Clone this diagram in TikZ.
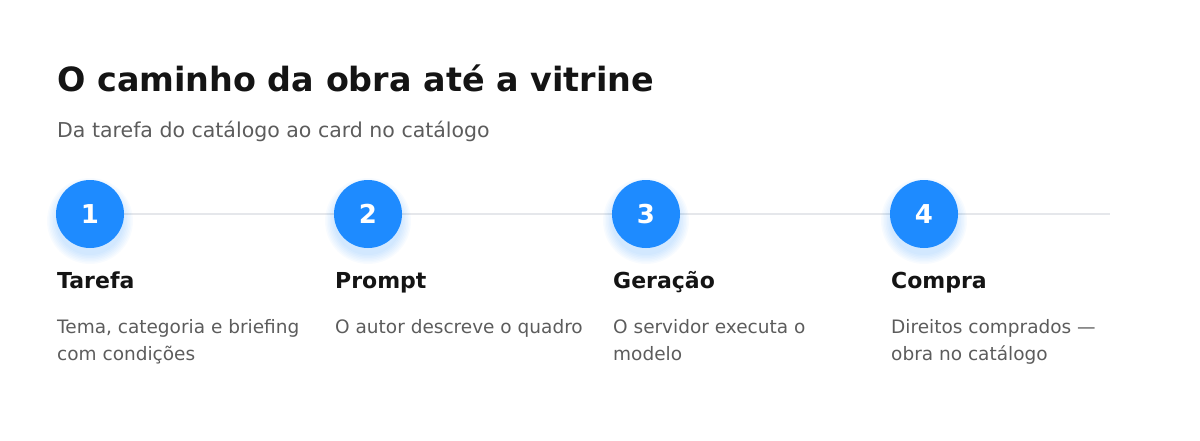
\documentclass[tikz,border=0pt]{standalone}
\usepackage{fontspec}
\setmainfont{DejaVu Sans}
\usetikzlibrary{backgrounds}
\definecolor{stepblue}{HTML}{1E8BFF}
\definecolor{railgray}{HTML}{E5E7EB}
\definecolor{inkdark}{HTML}{141414}
\definecolor{inkgray}{HTML}{5C5C5C}
\tikzset{
  stepdot/.style={circle,fill=stepblue,minimum size=68pt,inner sep=0pt,text=white,font=\fontsize{26}{26}\selectfont\bfseries},
  steptitle/.style={anchor=base west,inner sep=0pt,text=inkdark,font=\fontsize{22}{26}\selectfont\bfseries},
  stepdesc/.style={anchor=base west,inner sep=0pt,align=left,text=inkgray,font=\fontsize{18.5}{27}\selectfont},
}
\begin{document}
\begin{tikzpicture}[x=1pt,y=-1pt]
	\useasboundingbox (0,0) rectangle (1200,440);
	% cabeçalho
	\node[anchor=base west,inner sep=0pt,text=inkdark,font=\fontsize{33.4}{40}\selectfont\bfseries] (title) at (57,91) {O caminho da obra até a vitrine};
	\node[anchor=base west,inner sep=0pt,text=inkgray,font=\fontsize{20.5}{24}\selectfont] (subtitle) at (57,137) {Da tarefa do catálogo ao card no catálogo};
	% etapas (\yb = linha de base da última linha do texto)
	\foreach \i/\name/\yb/\desc in {1/Tarefa/360/{Tema, categoria e briefing\\com condições},
		2/Prompt/333/{O autor descreve o quadro},
		3/Geração/360/{O servidor executa o\\modelo},
		4/Compra/360/{Direitos comprados —\\obra no catálogo}}{
		\node[stepdot] (s\i) at (278*\i-188,214) {\i};
		\node[steptitle] (t\i) at (278*\i-221,288) {\name};
		\node[stepdesc] (d\i) at (278*\i-221,\yb) {\desc};
	}
	\coordinate (railend) at (1110,214);
	\begin{pgfonlayer}{background}
		\draw[railgray,line width=2pt] (s1.center) -- (railend);
		% sombra azul
		\foreach \i in {1,...,4}
			\foreach \r in {34,35.5,...,44}
				\fill[stepblue,opacity=0.03] ([yshift=-7pt]s\i.center) circle (\r);
	\end{pgfonlayer}
\end{tikzpicture}
\end{document}
